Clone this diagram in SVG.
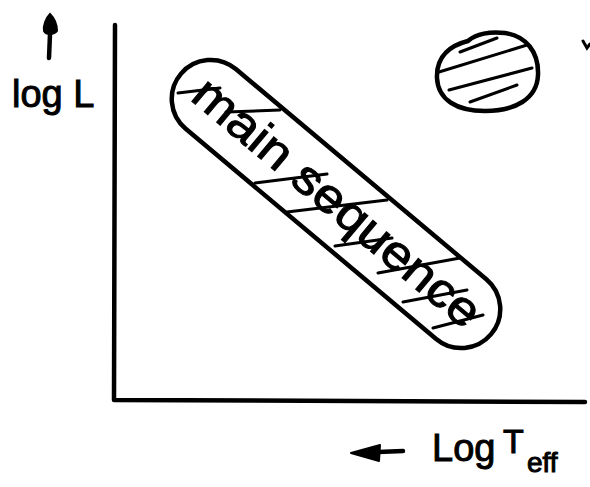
<svg xmlns="http://www.w3.org/2000/svg" width="590" height="487" viewBox="0 0 590 487">
<style>
.ink{fill:none;stroke:#000;stroke-width:4.5;stroke-linecap:round;stroke-linejoin:round}
.hatch{fill:none;stroke:#000;stroke-width:3;stroke-linecap:round}
.lbl{font-family:"Liberation Sans",Arial,sans-serif;fill:#000;stroke:#000;stroke-width:1}
</style>
<rect width="590" height="487" fill="#fff"/>
<g id="axes">
<path class="ink" d="M115,25 L114,400 L585,402"/>
</g>
<g id="y-label">
<path d="M50,14 C46,18 43,26 44,31 C46,35 54,35 57,31 C57,25 54,18 50,14 Z" fill="#000" stroke="#000" stroke-width="2"/>
<path class="ink" d="M50,34 L49,58"/>
<text class="lbl" x="12" y="107" font-size="38">log L</text>
</g>
<g id="x-label">
<path d="M351,453 L380,445 L379,461 Z" fill="#000" stroke="#000" stroke-width="2" stroke-linejoin="round"/>
<path class="ink" d="M378,452 L403,451"/>
<text class="lbl" x="432" y="461" font-size="38">Log</text>
<text class="lbl" x="503" y="453" font-size="34">T</text>
<text class="lbl" x="527" y="472" font-size="28">eff</text>
</g>
<g id="main-sequence">
<rect class="ink" x="133.5" y="165" width="405" height="78" rx="39" transform="rotate(40 336 204)"/>
<path class="hatch" d="M178,93 L220,88 M226,112 L280,110 M255,183 L327,174 M287,212 L387,200 M335,246 L392,238 M378,273 L460,258 M403,302 L467,290 M433,328 L483,315"/>
<text class="lbl" x="336" y="204" font-size="48" text-anchor="middle" textLength="360" lengthAdjust="spacingAndGlyphs" transform="rotate(40 336 204) translate(0 14)">main sequence</text>
</g>
<g id="star">
<path class="ink" d="M437,78 C436,55 452,45 468,41 C476,34 490,31 505,33 C526,36 539,52 538,75 C537,99 515,111 485,111 C457,111 438,100 437,78 Z"/>
<path class="hatch" d="M439,72 L527,45 M449,90 L532,68 M470,102 L517,85 M460,52 L497,38"/>
</g>
<path class="hatch" d="M583,41 L587,48 L590,44" stroke-width="2"/>
</svg>
